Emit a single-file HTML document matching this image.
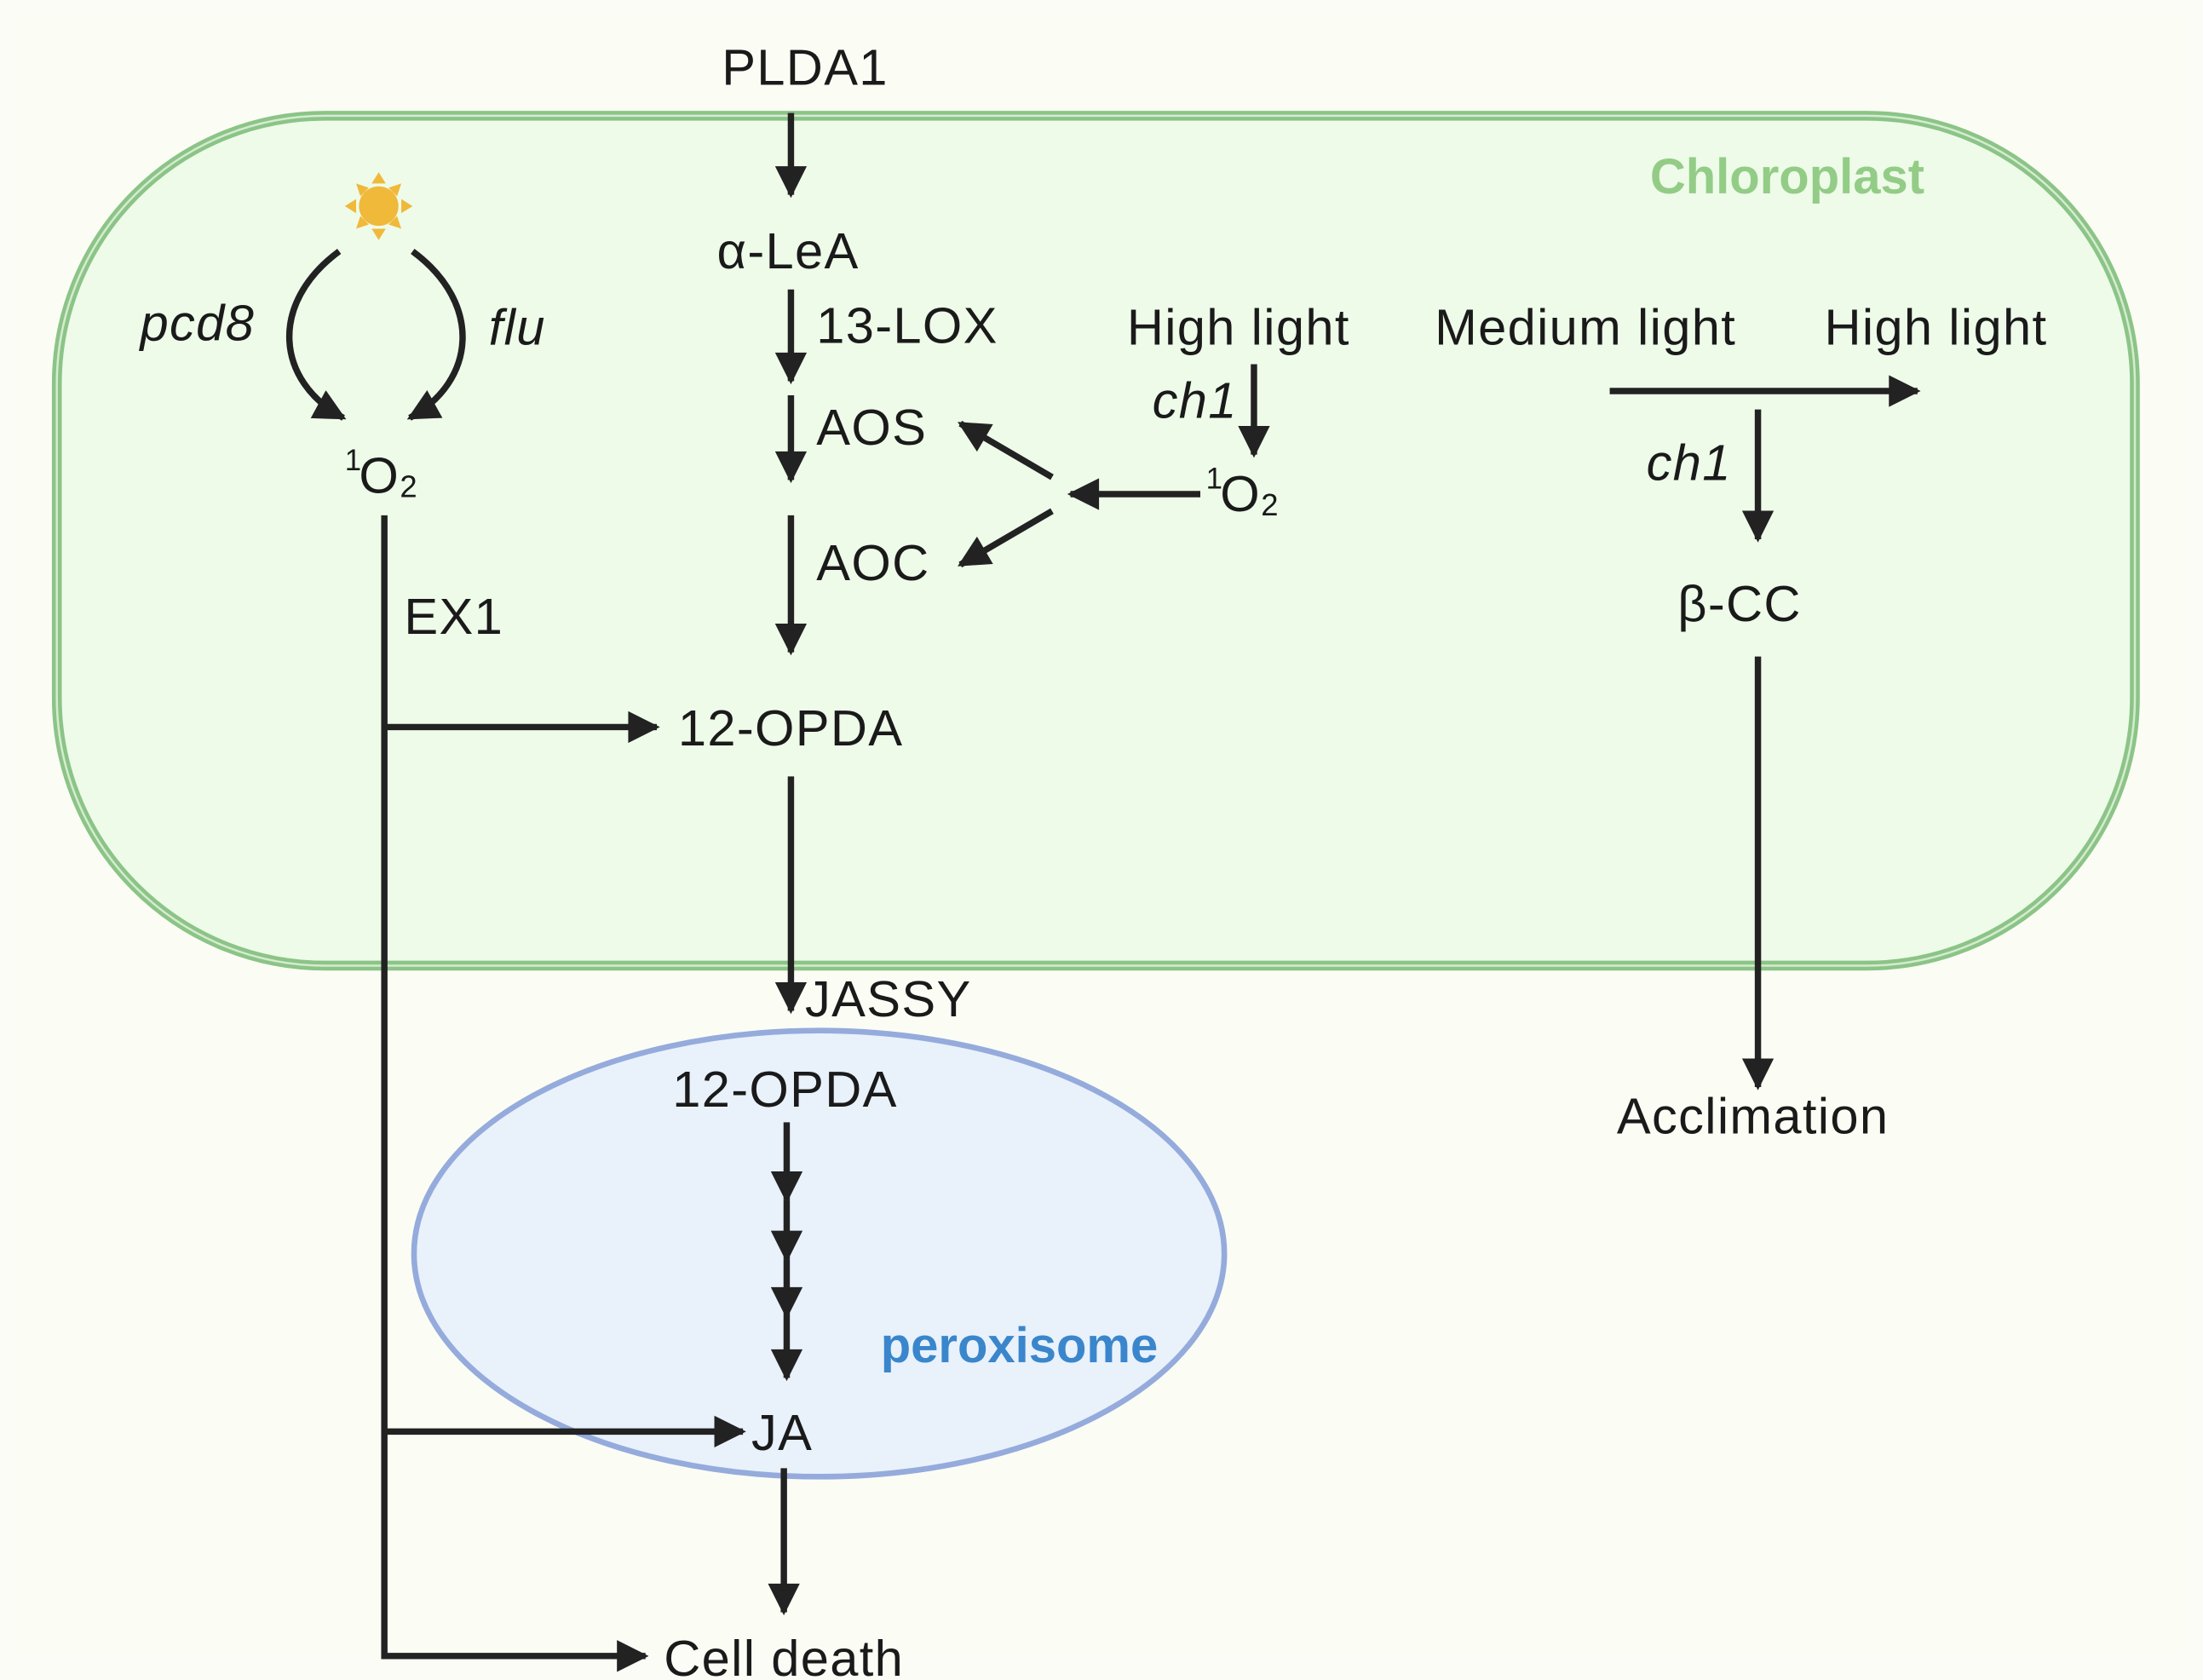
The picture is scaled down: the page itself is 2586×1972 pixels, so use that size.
<!DOCTYPE html>
<html><head><meta charset="utf-8"><style>
html,body{margin:0;padding:0;background:#fbfcf6;}
svg{display:block;}
text{font-family:"Liberation Sans",sans-serif;fill:#1a1a1a;}
</style></head><body>
<svg width="2586" height="1972" viewBox="0 0 1560 1190" xmlns="http://www.w3.org/2000/svg">
<defs>
<marker id="a" viewBox="0 0 10 10" refX="9" refY="5" markerWidth="5.5" markerHeight="5" orient="auto" markerUnits="strokeWidth">
<path d="M0,0 L10,5 L0,10 z" fill="#222"/></marker>
</defs>
<rect x="0" y="0" width="1560" height="1190" fill="#fbfcf6"/>
<rect x="12" y="12" width="1536" height="1160" fill="#fbfdf5"/>
<rect x="40" y="82" width="1472" height="602" rx="190" ry="190" fill="#eefbe9" stroke="#8cc487" stroke-width="7"/>
<rect x="40" y="82" width="1472" height="602" rx="190" ry="190" fill="none" stroke="#d4ecd0" stroke-width="1.5"/>
<text x="1363" y="137" font-size="35" font-weight="bold" text-anchor="end" style="fill:#93cc86">Chloroplast</text>
<ellipse cx="580" cy="888" rx="287" ry="158" fill="#e9f1fb" stroke="#95abdc" stroke-width="4"/>
<text x="820" y="965" font-size="35" font-weight="bold" text-anchor="end" style="fill:#3a86cc">peroxisome</text>

<g stroke="#222" stroke-width="4.5" fill="none" marker-end="url(#a)">
<line x1="560" y1="80" x2="560" y2="138"/>
<line x1="560" y1="205" x2="560" y2="270"/>
<line x1="560" y1="280" x2="560" y2="340"/>
<line x1="560" y1="365" x2="560" y2="462"/>
<line x1="888" y1="258" x2="888" y2="322"/>
<line x1="850" y1="350" x2="758" y2="350"/>
<line x1="745" y1="338" x2="680" y2="300"/>
<line x1="745" y1="362" x2="680" y2="400"/>
<line x1="1140" y1="277" x2="1358" y2="277"/>
<line x1="1245" y1="290" x2="1245" y2="382"/>
<line x1="1245" y1="465" x2="1245" y2="770"/>
<line x1="272" y1="515" x2="465" y2="515"/>
<line x1="560" y1="550" x2="560" y2="716"/>
<line x1="557" y1="795" x2="557" y2="850"/>
<line x1="557" y1="850" x2="557" y2="892"/>
<line x1="557" y1="892" x2="557" y2="932"/>
<line x1="557" y1="932" x2="557" y2="976"/>
<line x1="272" y1="1014" x2="526" y2="1014"/>
<line x1="555" y1="1040" x2="555" y2="1142"/>
<polyline points="272,365 272,1173 457,1173"/>
<path d="M240,178 C190,215 195,270 243,296"/>
<path d="M292,178 C342,215 337,270 290,296"/>
</g>
<g fill="#f0b93a">
<circle cx="268" cy="146" r="14"/>
<path d="M268,122 l-5,8 h10z M268,170 l-5,-8 h10z M244,146 l8,-5 v10z M292,146 l-8,-5 v10z"/>
<path d="M252,130 l3,9 l6,-6z M284,130 l-3,9 l-6,-6z M252,162 l3,-9 l6,6z M284,162 l-3,-9 l-6,6z"/>
</g>
<g font-size="36" letter-spacing="0.8">
<text x="570" y="60" text-anchor="middle">PLDA1</text>
<text x="558" y="190" text-anchor="middle">α-LeA</text>
<text x="578" y="243">13-LOX</text>
<text x="578" y="315">AOS</text>
<text x="578" y="411">AOC</text>
<text x="798" y="244">High light</text>
<text x="816" y="296" font-style="italic">ch1</text>
<text x="1016" y="244">Medium light</text>
<text x="1292" y="244">High light</text>
<text x="1166" y="340" font-style="italic">ch1</text>
<text x="1232" y="440" text-anchor="middle">β-CC</text>
<text x="99" y="241" font-style="italic">pcd8</text>
<text x="346" y="244" font-style="italic">flu</text>
<text x="286" y="449">EX1</text>
<text x="480" y="528">12-OPDA</text>
<text x="570" y="720">JASSY</text>
<text x="476" y="784">12-OPDA</text>
<text x="532" y="1027">JA</text>
<text x="470" y="1187">Cell death</text>
<text x="1145" y="803">Acclimation</text>
</g>
<g font-size="36">
<text x="244" y="333" font-size="21">1</text><text x="254" y="349">O</text><text x="283" y="352" font-size="22">2</text>
<text x="854" y="346" font-size="21">1</text><text x="864" y="362">O</text><text x="893" y="365" font-size="22">2</text>
</g>
</svg>
</body></html>
